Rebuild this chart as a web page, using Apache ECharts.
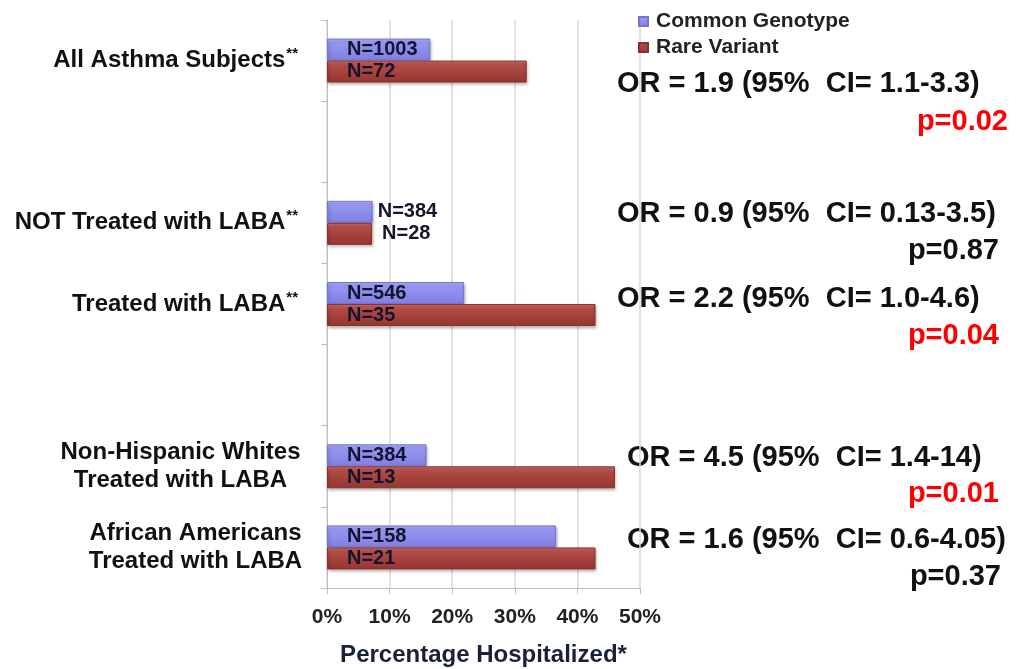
<!DOCTYPE html>
<html>
<head>
<meta charset="utf-8">
<script src="https://cdn.jsdelivr.net/npm/echarts@6.0.0/dist/echarts.min.js"></script>
<style>
  html, body { margin: 0; padding: 0; background: #fff; }
  #main { width: 1016px; height: 669px; }
</style>
</head>
<body>
<div id="main"></div>
<script>
// groups, top to bottom ('' = empty spacer row)
const categories = ['All Asthma Subjects**', '', 'NOT Treated with LABA**', 'Treated with LABA**', '', 'Non-Hispanic Whites\nTreated with LABA', 'African Americans\nTreated with LABA']
// percentage hospitalized
const commonPct = [16.5, null, 7.3, 21.9, null, 15.9, 36.6]
const rarePct = [31.9, null, 7.2, 42.9, null, 46.0, 42.9]
// sample sizes shown on the bars
const commonN = ['N=1003', '', 'N=384', 'N=546', '', 'N=384', 'N=158']
const rareN = ['N=72', '', 'N=28', 'N=35', '', 'N=13', 'N=21']
// odds ratios and p-values on the right
const orText = ['OR = 1.9 (95%  CI= 1.1-3.3)', 'OR = 0.9 (95%  CI= 0.13-3.5)', 'OR = 2.2 (95%  CI= 1.0-4.6)', 'OR = 4.5 (95%  CI= 1.4-14)', 'OR = 1.6 (95%  CI= 0.6-4.05)']
const pText = ['p=0.02', 'p=0.87', 'p=0.04', 'p=0.01', 'p=0.37']
const pSignificant = [true, false, true, true, false]

const FONT = '"Liberation Sans", Arial, sans-serif'

// layout of the annotation block (pixels)
const orPos = [[617, 85], [617, 215], [617, 300], [627, 459], [627, 541]]
const pPos = [[1008, 123], [999, 252], [999, 337], [999, 495], [1001, 578]]

function barData (values, labels, outsideGap) {
  return values.map(function (v, i) {
    if (v === null) return '-'
    const outside = v < 10
    return {
      value: v,
      label: {
        formatter: labels[i],
        position: outside ? 'right' : 'insideLeft',
        distance: outside ? outsideGap : 20
      }
    }
  })
}

const barLabel = {
  show: true,
  fontFamily: FONT,
  fontWeight: 'bold',
  fontSize: 20,
  color: '#14142e'
}

const annotations = []
orText.forEach(function (t, i) {
  annotations.push({
    type: 'text',
    left: orPos[i][0],
    top: orPos[i][1] - 16,
    style: {
      text: t,
      fontFamily: FONT,
      fontWeight: 'bold',
      fontSize: 29,
      fill: '#111'
    }
  })
  annotations.push({
    type: 'text',
    right: 1016 - pPos[i][0],
    top: pPos[i][1] - 16,
    style: {
      text: pText[i],
      fontFamily: FONT,
      fontWeight: 'bold',
      fontSize: 29,
      fill: pSignificant[i] ? '#ff0000' : '#111'
    }
  })
})

const myChart = echarts.init(document.getElementById('main'), null, { renderer: 'canvas' })
const option = {
  backgroundColor: '#fff',
  animation: false,
  legend: {
    orient: 'vertical',
    left: 633,
    top: 6,
    itemWidth: 9,
    itemHeight: 9,
    itemGap: 5,
    icon: 'rect',
    textStyle: {
      fontFamily: FONT,
      fontWeight: 'bold',
      fontSize: 21,
      color: '#222',
      padding: [0, 0, 0, 3]
    },
    data: ['Common Genotype', 'Rare Variant']
  },
  grid: {
    left: 327,
    right: 376,
    top: 20,
    bottom: 81,
    containLabel: false,
    outerBoundsMode: 'none'
  },
  xAxis: {
    type: 'value',
    min: 0,
    max: 50,
    interval: 10,
    name: 'Percentage Hospitalized*',
    nameLocation: 'middle',
    nameGap: 55,
    nameTextStyle: {
      fontFamily: FONT,
      fontWeight: 'bold',
      fontSize: 24,
      color: '#1a1f3a'
    },
    axisLine: { show: true, lineStyle: { color: '#bfbfbf', width: 1 } },
    axisTick: { show: true, length: 6, lineStyle: { color: '#bfbfbf' } },
    axisLabel: {
      formatter: '{value}%',
      fontFamily: FONT,
      fontWeight: 'bold',
      fontSize: 21,
      color: '#222',
      margin: 19
    },
    splitLine: { show: true, lineStyle: { color: '#d9d9d9', width: 1.5 } }
  },
  yAxis: {
    type: 'category',
    inverse: true,
    data: categories,
    axisLine: { show: true, lineStyle: { color: '#bfbfbf', width: 1 } },
    axisTick: { show: true, length: 6, lineStyle: { color: '#bfbfbf' } },
    axisLabel: {
      margin: 24,
      fontFamily: FONT,
      fontWeight: 'bold',
      fontSize: 24,
      color: '#111',
      lineHeight: 28,
      formatter: function (v, i) {
        if (v.slice(-2) === '**') return '{n|' + v.slice(0, -2) + '}{s|**}'
        if (v.indexOf('\n') >= 0) {
          const style = i === 5 ? 'w1' : 'w2'
          return v.split('\n').map(function (l) { return '{' + style + '|' + l + '}' }).join('\n')
        }
        return v
      },
      rich: {
        n: { fontFamily: FONT, fontWeight: 'bold', fontSize: 24, color: '#111' },
        s: { fontFamily: FONT, fontWeight: 'bold', fontSize: 15, color: '#111', verticalAlign: 'top', padding: [0, 5, 7, 1] },
        w1: { fontFamily: FONT, fontWeight: 'bold', fontSize: 24, color: '#111', width: 245, align: 'center', lineHeight: 28 },
        w2: { fontFamily: FONT, fontWeight: 'bold', fontSize: 24, color: '#111', width: 215, align: 'center', lineHeight: 28 }
      }
    }
  },
  series: [
    {
      name: 'Common Genotype',
      type: 'bar',
      barWidth: 22,
      barGap: '0%',
      data: barData(commonPct, commonN, 5),
      label: barLabel,
      itemStyle: {
        color: new echarts.graphic.LinearGradient(0, 0, 0, 1, [
          { offset: 0, color: '#b3b3ff' },
          { offset: 0.25, color: '#9494f2' },
          { offset: 1, color: '#7f7fe0' }
        ]),
        borderColor: '#7373d6',
        borderWidth: 1,
        shadowColor: 'rgba(0,0,0,0.3)',
        shadowBlur: 3,
        shadowOffsetX: 1,
        shadowOffsetY: 2
      }
    },
    {
      name: 'Rare Variant',
      type: 'bar',
      barWidth: 22,
      barGap: '0%',
      data: barData(rarePct, rareN, 10),
      label: barLabel,
      itemStyle: {
        color: new echarts.graphic.LinearGradient(0, 0, 0, 1, [
          { offset: 0, color: '#d0706b' },
          { offset: 0.25, color: '#b14a45' },
          { offset: 1, color: '#963531' }
        ]),
        borderColor: '#8c302c',
        borderWidth: 1,
        shadowColor: 'rgba(0,0,0,0.3)',
        shadowBlur: 3,
        shadowOffsetX: 1,
        shadowOffsetY: 2
      }
    }
  ],
  graphic: annotations
}
myChart.setOption(option)
</script>
</body>
</html>
